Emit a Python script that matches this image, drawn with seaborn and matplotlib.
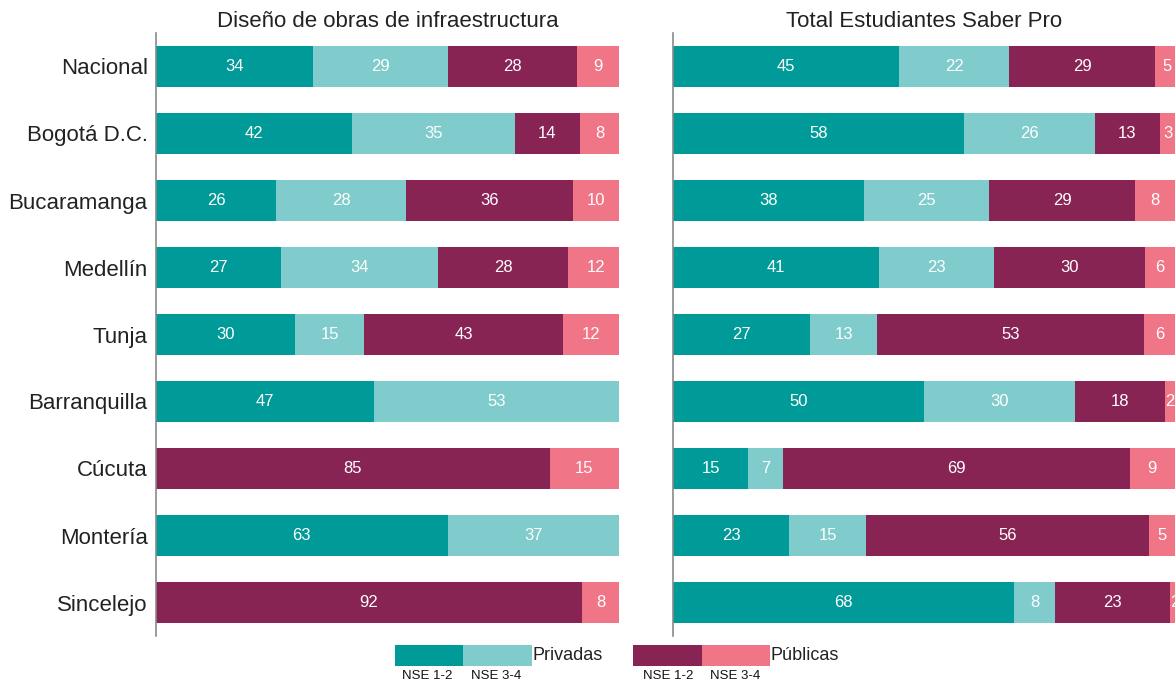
"""Stacked horizontal bars: student share by school type and socioeconomic level."""

import matplotlib.pyplot as plt
import numpy as np
import pandas as pd
import seaborn as sns
from matplotlib.patches import Rectangle

CITIES = [
    "Nacional", "Bogotá D.C.", "Bucaramanga", "Medellín", "Tunja",
    "Barranquilla", "Cúcuta", "Montería", "Sincelejo",
]
SEGMENTS = ["Privadas NSE 1-2", "Privadas NSE 3-4", "Públicas NSE 1-2", "Públicas NSE 3-4"]
COLORS = ["#009a99", "#80cbcb", "#872453", "#ef7587"]

# Diseño de obras de infraestructura (decimals)
DISENO_PRIV_12 = [34, 42.3, 26, 27, 30, 47, 0, 63, 0]
DISENO_PRIV_34 = [29, 35.2, 28, 34, 15, 53, 0, 37, 0]
DISENO_PUB_12 = [28, 14.1, 36, 28, 43, 0, 85, 0, 92]
DISENO_PUB_34 = [9, 8.4, 10, 12, 12, 0, 15, 0, 8]

# Total Estudiantes Saber Pro
TOTAL_PRIV_12 = [45, 58, 38, 41, 27.3, 50, 15, 23.2, 68]
TOTAL_PRIV_34 = [22, 26, 25, 23, 13.4, 30, 7, 15.3, 8]
TOTAL_PUB_12 = [29, 13, 29, 30, 53.2, 18, 69, 56.3, 23]
TOTAL_PUB_34 = [5, 3, 8, 6, 6.1, 2, 9, 5.2, 2]

TITLES = ["Diseño de obras de infraestructura", "Total Estudiantes Saber Pro"]


def build_frame(*series):
    df = pd.DataFrame(dict(zip(SEGMENTS, series)), index=CITIES)
    df.index.name = "ciudad"
    return df


def draw_panel(ax, df, title, show_labels):
    cum = df.cumsum(axis=1)
    # draw cumulative totals from the outermost segment inwards so they stack
    for seg, color in reversed(list(zip(SEGMENTS, COLORS))):
        sns.barplot(
            x=cum[seg].values, y=CITIES, orient="h", color=color,
            width=0.6, saturation=1, linewidth=0, ax=ax,
        )
    starts = cum - df
    for i, city in enumerate(CITIES):
        for seg in SEGMENTS:
            val = df.loc[city, seg]
            if val <= 0:
                continue
            ax.text(
                starts.loc[city, seg] + val / 2, i, f"{val:.0f}",
                ha="center", va="center", color="white", fontsize=12,
                clip_on=False,
            )
    ax.set_xlim(0, 100)
    ax.set_ylim(8.5, -0.5)
    ax.set_title(title, fontsize=16, color="#222222", pad=4)
    ax.set_xlabel("")
    ax.set_ylabel("")
    ax.set_xticks([])
    ax.tick_params(axis="y", length=0, labelsize=16, labelcolor="#222222", pad=6)
    if not show_labels:
        ax.set_yticklabels([])
    for side in ["top", "right", "bottom"]:
        ax.spines[side].set_visible(False)
    ax.spines["left"].set_color("#8a8a8a")
    ax.spines["left"].set_linewidth(1.2)


def draw_legend(fig):
    W, H = 1176, 685

    def box(x0, x1, color):
        fig.add_artist(Rectangle(
            (x0 / W, 1 - 666 / H), (x1 - x0) / W, 21 / H,
            transform=fig.transFigure, facecolor=color, edgecolor="none",
        ))

    box(395, 463, COLORS[0])
    box(463, 532, COLORS[1])
    box(633, 702, COLORS[2])
    box(702, 770, COLORS[3])
    fig.text(532 / W, 1 - 656 / H, "Privadas", fontsize=13, va="center", color="#222222")
    fig.text(771 / W, 1 - 656 / H, "Públicas", fontsize=13, va="center", color="#222222")
    for x in [402, 643]:
        fig.text(x / W, 1 - 676 / H, "NSE 1-2", fontsize=9.5, va="center", color="#111111")
    for x in [471, 710]:
        fig.text(x / W, 1 - 676 / H, "NSE 3-4", fontsize=9.5, va="center", color="#111111")


def main():
    sns.set_theme(style="white")
    plt.rcParams["font.family"] = ["Liberation Sans", "DejaVu Sans"]

    W, H = 1176, 685
    fig = plt.figure(figsize=(W / 100, H / 100), dpi=100)
    bottom, top = 636, 33
    ax_left = fig.add_axes([156 / W, 1 - bottom / H, 463 / W, (bottom - top) / H])
    ax_right = fig.add_axes([673 / W, 1 - bottom / H, 502 / W, (bottom - top) / H])

    diseno = build_frame(DISENO_PRIV_12, DISENO_PRIV_34, DISENO_PUB_12, DISENO_PUB_34)
    total = build_frame(TOTAL_PRIV_12, TOTAL_PRIV_34, TOTAL_PUB_12, TOTAL_PUB_34)

    draw_panel(ax_left, diseno, TITLES[0], show_labels=True)
    draw_panel(ax_right, total, TITLES[1], show_labels=False)
    draw_legend(fig)

    fig.savefig("out.png", dpi=100)
    plt.close(fig)


if __name__ == "__main__":
    main()
